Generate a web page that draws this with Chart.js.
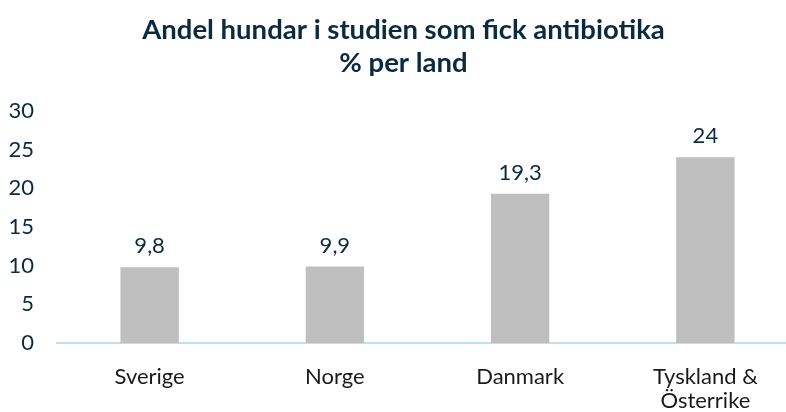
<!DOCTYPE html>
<html>
<head>
<meta charset="utf-8">
<script src="https://cdn.jsdelivr.net/npm/chart.js@4/dist/chart.umd.min.js"></script>
<style>
    html, body { margin: 0; padding: 0; background: #fff; overflow: hidden; }
    #wrap { width: 786px; height: 412px; overflow: hidden; }
    #box { width: 800px; height: 412px; }
</style>
</head>
<body>
<div id="wrap"><div id="box"><canvas id="chart"></canvas></div></div>
<script>
// Chart data
const countries = ["Sverige", "Norge", "Danmark", ["Tyskland &", "Österrike"]];
const shares = [9.8, 9.9, 19.3, 24];
const yTicks = [0, 5, 10, 15, 20, 25, 30];

const navy = "#0b2a40";

// Draws the value above every bar, with a comma as decimal mark
const valueLabels = {
    id: "valueLabels",
    afterDatasetsDraw(chart) {
        const ctx = chart.ctx;
        ctx.save();
        ctx.font = "22px Lato";
        ctx.fillStyle = navy;
        ctx.textAlign = "center";
        ctx.textBaseline = "middle";
        chart.getDatasetMeta(0).data.forEach((bar, i) => {
            ctx.fillText(String(shares[i]).replace(".", ","), bar.x, bar.y - 21);
        });
        ctx.restore();
    },
};

new Chart(document.getElementById("chart"), {
    type: "bar",
    data: {
        labels: countries,
        datasets: [
            {
                data: shares,
                backgroundColor: "#bfbfbf",
                barPercentage: 0.315,
                categoryPercentage: 1,
            },
        ],
    },
    options: {
        responsive: true,
        maintainAspectRatio: false,
        animation: false,
        layout: { padding: { left: 9, right: 2, top: 0, bottom: 0 } },
        plugins: {
            legend: { display: false },
            tooltip: { enabled: false },
            title: {
                display: true,
                text: ["Andel hundar i studien som fick antibiotika", "% per land"],
                color: navy,
                font: { family: "Lato", size: 27.5, weight: "bold", lineHeight: 1.18 },
                padding: { top: 14, bottom: 32 },
            },
        },
        scales: {
            x: {
                grid: { display: false, drawTicks: false },
                border: { color: "#bde0f5", width: 2 },
                ticks: {
                    color: "#1a1a1a",
                    font: { family: "Lato", size: 22, lineHeight: 1.1 },
                    padding: 22,
                    maxRotation: 0,
                },
                afterFit: axis => {
                    axis.height = 69;
                },
            },
            y: {
                min: 0,
                max: 30,
                afterBuildTicks: axis => {
                    axis.ticks = yTicks.map(v => ({ value: v }));
                },
                grid: { display: false, drawTicks: false },
                border: { display: false },
                ticks: {
                    color: navy,
                    font: { family: "Lato", size: 22 },
                    padding: 23,
                },
                afterFit: axis => {
                    axis.width = 48;
                },
            },
        },
    },
    plugins: [valueLabels],
});
</script>
</body>
</html>
